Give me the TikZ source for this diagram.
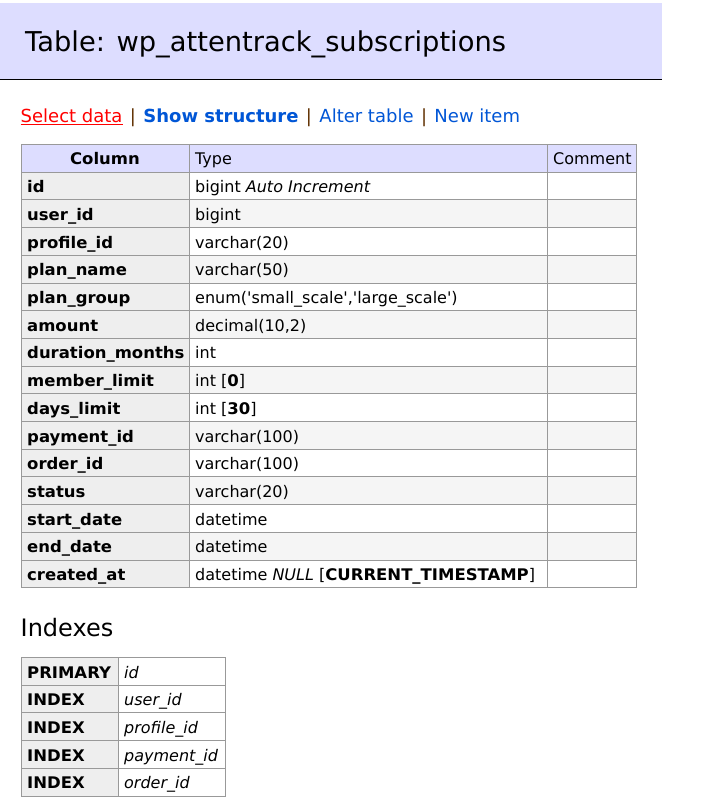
\documentclass[tikz,border=0pt]{standalone}
\usepackage{fontspec}
\setmainfont{DejaVu Sans}[BoldFeatures={FakeStretch=1.03}]
\newfontfamily\linkfont{DejaVu Sans}
\usetikzlibrary{positioning}

\definecolor{headbg}{HTML}{DDDDFF}
\definecolor{thbg}{HTML}{EEEEEE}
\definecolor{oddbg}{HTML}{F5F5F5}
\definecolor{gridgray}{HTML}{999999}
\definecolor{linkblue}{RGB}{0,86,214}
\definecolor{sepbrown}{RGB}{96,48,0}

\tikzset{
	gridline/.style={draw=gridgray, line width=1pt},
	cell/.style={anchor=base west, inner sep=0pt, font=\fontsize{16}{19}\selectfont},
	cellbold/.style={cell, font=\fontsize{16}{19}\selectfont\bfseries},
	linktext/.style={anchor=base west, inner sep=0pt, font=\linkfont\fontsize{18}{21}\selectfont}
}

% one row of the structure table: [type fill](name:top) {column} {type}
\def\fieldrow[#1](#2:#3)#4#5{
	\fill[#1] (189, #3) rectangle (636, #3+27.7);
	\fill[thbg] (21, #3) rectangle (189, #3+27.7);
	\draw[gridline] (21, #3) rectangle (189, #3+27.7) (189, #3) rectangle (547, #3+27.7) (547, #3) rectangle (636, #3+27.7);
	\node[cellbold] (col-#2) at (27, #3+20.5) {#4};
	\node[cell] (type-#2) at (195, #3+20.5) {#5};
}
% one row of the index table: (name:top) {kind} {column}
\def\indexrow(#1:#2)#3#4{
	\fill[thbg] (21, #2) rectangle (118, #2+27.7);
	\fill[white] (118, #2) rectangle (225, #2+27.7);
	\draw[gridline] (21, #2) rectangle (118, #2+27.7) (118, #2) rectangle (225, #2+27.7);
	\node[cellbold] (kind-#1) at (27, #2+20.5) {#3};
	\node[cell] (key-#1) at (124, #2+20.5) {\itshape #4};
}

\begin{document}
\begin{tikzpicture}[x=1pt, y=-1pt]
		%%%%% START %%%%%
		\useasboundingbox[fill=white] (0, 0) rectangle (724, 798);
		
		\fill[headbg] (0, 3) rectangle (661.5, 79);
		\draw[line width=1pt] (0, 79) -- (661.5, 79);
		\node[anchor=base west, inner sep=0pt, font=\fontsize{27.3}{32}\selectfont] (title) at (25, 51) {Table: wp\_attentrack\_subscriptions};
		
		\node[linktext, text=red] (seldata) at (20.5, 122) {Select data};
		\draw[red, line width=1pt] ([yshift=-2pt]seldata.base west) -- ([yshift=-2pt]seldata.base east);
		\node[linktext, text=sepbrown, base right=7pt of seldata] (sep1) {|};
		\node[linktext, text=linkblue, font=\linkfont\fontsize{18}{21}\selectfont\bfseries, base right=7pt of sep1] (showstr) {Show structure};
		\node[linktext, text=sepbrown, base right=7pt of showstr] (sep2) {|};
		\node[linktext, text=linkblue, base right=7pt of sep2] (alter) {Alter table};
		\node[linktext, text=sepbrown, base right=7pt of alter] (sep3) {|};
		\node[linktext, text=linkblue, base right=7pt of sep3] (newitem) {New item};
		
		\fill[headbg] (21, 144.5) rectangle (636, 172.2);
		\draw[gridline] (21, 144.5) rectangle (189, 172.2) (189, 144.5) rectangle (547, 172.2) (547, 144.5) rectangle (636, 172.2);
		\node[cellbold, anchor=base] (hcol) at (105, 164.5) {Column};
		\node[cell] (htype) at (195, 164.5) {Type};
		\node[cell] (hcomment) at (553, 164.5) {Comment};
		
		\fieldrow[white](id:172.2){id}{bigint \textit{Auto Increment}}
		\fieldrow[oddbg](user:199.9){user\_id}{bigint}
		\fieldrow[white](profile:227.6){profile\_id}{varchar(20)}
		\fieldrow[oddbg](pname:255.3){plan\_name}{varchar(50)}
		\fieldrow[white](pgroup:283.0){plan\_group}{enum(\textquotesingle small\_scale\textquotesingle,\textquotesingle large\_scale\textquotesingle)}
		\fieldrow[oddbg](amount:310.7){amount}{decimal(10,2)}
		\fieldrow[white](duration:338.4){duration\_months}{int}
		\fieldrow[oddbg](member:366.1){member\_limit}{int [\textbf{0}]}
		\fieldrow[white](days:393.8){days\_limit}{int [\textbf{30}]}
		\fieldrow[oddbg](payment:421.5){payment\_id}{varchar(100)}
		\fieldrow[white](order:449.2){order\_id}{varchar(100)}
		\fieldrow[oddbg](status:476.9){status}{varchar(20)}
		\fieldrow[white](start:504.6){start\_date}{datetime}
		\fieldrow[oddbg](end:532.3){end\_date}{datetime}
		\fieldrow[white](created:560.0){created\_at}{datetime \textit{NULL} [\textbf{CURRENT\_TIMESTAMP}]}
		
		\node[anchor=base west, inner sep=0pt, font=\fontsize{24}{28}\selectfont] (indexes) at (20.5, 636) {Indexes};
		
		\indexrow(primary:657.5){PRIMARY}{id}
		\indexrow(user:685.2){INDEX}{user\_id}
		\indexrow(profile:712.9){INDEX}{profile\_id}
		\indexrow(payment:740.6){INDEX}{payment\_id}
		\indexrow(order:768.3){INDEX}{order\_id}
		
		%%%%% END %%%%%
	\end{tikzpicture}
\end{document}
